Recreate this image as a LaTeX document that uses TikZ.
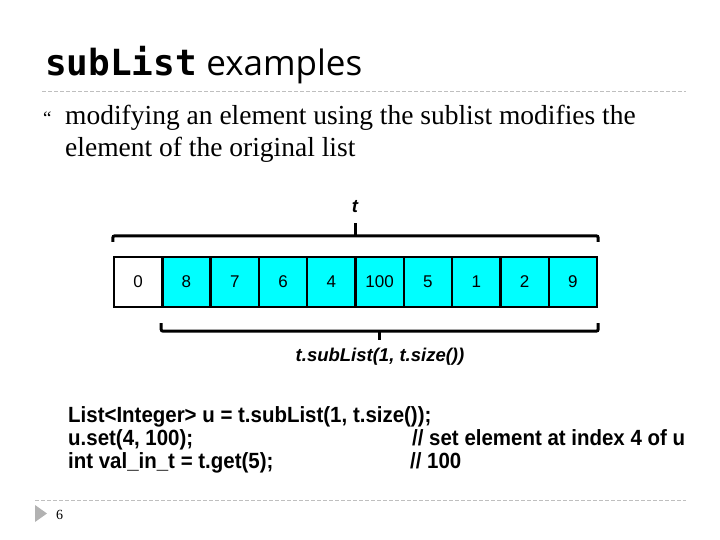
\documentclass[tikz,border=0pt]{standalone}
\usepackage{fontspec}
\setmainfont{Liberation Serif}
\setsansfont{Liberation Sans}
\setmonofont{DejaVu Sans Mono}
\newfontfamily\titlefont{Open Sans}
\newfontfamily\codefont[FakeStretch=0.93]{Liberation Sans}
\usetikzlibrary{positioning,calc}

\definecolor{cellcyan}{RGB}{0,255,255}

\tikzset{
	cell/.style={draw=black,line width=2.4pt,minimum width=48.3pt,minimum height=50pt,inner sep=0pt,
		font=\sffamily\fontsize{17}{17}\selectfont},
	brace/.style={line width=3pt,rounded corners=2pt},
	rule/.style={gray!50,line width=0.8pt,dash pattern=on 4pt off 2pt},
	txt/.style={anchor=base west,inner sep=0pt,font=\fontsize{27.5}{27.5}\selectfont},
	codeline/.style={anchor=base west,inner sep=0pt,font=\codefont\bfseries\fontsize{22}{22}\selectfont},
	lab/.style={font=\sffamily\bfseries\itshape\fontsize{18.5}{18.5}\selectfont,inner sep=1pt}
}

\begin{document}
\begin{tikzpicture}[x=1pt,y=-1pt]
	\useasboundingbox (0,0) rectangle (720,540);
	
	% titre
	\node[anchor=base west,inner sep=0pt] (title) at (45,76) {\ttfamily\bfseries\fontsize{36}{36}\selectfont subList};
	\node[anchor=base west,inner sep=0pt] (examples) at ([xshift=9pt]title.base east) {\titlefont\fontsize{35}{35}\selectfont examples};
	\draw[rule] (42,91) -- (686,91);
	
	\node[anchor=base west,inner sep=0pt] (bullet) at (43,125) {\fontsize{19}{19}\selectfont ``};
	\node[txt] (line1) at (65,125) {modifying an element using the sublist modifies the};
	\node[txt] (line2) at (65,157) {element of the original list};
	
	% cases
	\foreach \v [count=\i from 0] in {0,8,7,6,4,100,5,1,2,9}{
		\ifnum\i=0
			\node[cell,fill=white] (c\i) at ({114+48.3*(\i+0.5)},282) {\v};
		\else
			\node[cell,fill=cellcyan] (c\i) at ({114+48.3*(\i+0.5)},282) {\v};
		\fi }
	
	% accolades
	\draw[brace] ([yshift=14pt]c0.north west) -- ([yshift=20pt]c0.north west) -- ([yshift=20pt]c9.north east) -- ([yshift=14pt]c9.north east);
	\coordinate (tmid) at ($([yshift=20pt]c0.north west)!.5!([yshift=20pt]c9.north east)$);
	\node[lab] (tlab) at (355,207) {t};
	\draw[line width=3pt] (tmid) -- ++(0,-13);
	
	\draw[brace] ([yshift=-15pt]c1.south west) -- ([yshift=-23pt]c1.south west) -- ([yshift=-23pt]c9.south east) -- ([yshift=-15pt]c9.south east);
	\coordinate (smid) at ($([yshift=-23pt]c1.south west)!.5!([yshift=-23pt]c9.south east)$);
	\node[lab] (slab) at (380,357) {t.subList(1, t.size())};
	\draw[line width=3pt] (smid) -- ++(0,9);
	
	% code
	\node[codeline] (code1) at (68,422) {List<Integer> u = t.subList(1, t.size());};
	\node[codeline] (code2) at (68,445) {u.set(4, 100);};
	\node[codeline] (code3) at (68,468) {int val\_in\_t = t.get(5);};
	\node[codeline] (com2) at (412,445) {// set element at index 4 of u};
	\node[codeline] (com3) at (410,468) {// 100};
	
	% pied
	\draw[rule] (35,500) -- (686,500);
	\fill[gray!60] (35,505) -- (47,513.5) -- (35,522) -- cycle;
	\node[anchor=base west,inner sep=0pt] (num) at (56,519) {\fontsize{14}{14}\selectfont 6};
	
\end{tikzpicture}
\end{document}
